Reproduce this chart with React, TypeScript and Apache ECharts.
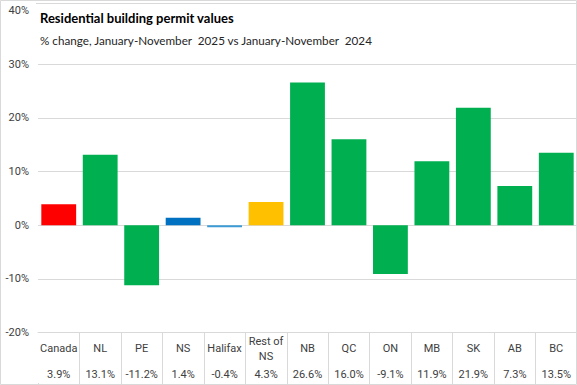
import React, { useEffect, useRef } from "react";
import * as echarts from "echarts";

const categories = ["Canada", "NL", "PE", "NS", "Halifax", "Rest of\nNS", "NB", "QC", "ON", "MB", "SK", "AB", "BC"];
const values = [3.9, 13.1, -11.2, 1.4, -0.4, 4.3, 26.6, 16.0, -9.1, 11.9, 21.9, 7.3, 13.5];
const barColors = ["#FF0000", "#00B050", "#00B050", "#0070C0", "#3C9BD4", "#FFC000", "#00B050", "#00B050", "#00B050", "#00B050", "#00B050", "#00B050", "#00B050"];
const titleText = "Residential building permit values";
const subtitleText = "% change, January-November  2025 vs January-November  2024";

export default function App() {
  const ref = useRef<HTMLDivElement>(null);
  useEffect(() => {
    if (!ref.current) return;
    const chart = echarts.init(ref.current, null, { renderer: "svg" });
    const labelFont = "Roboto";
    chart.setOption({
      animation: false,
      backgroundColor: "#ffffff",
      grid: { left: 38, right: 0, top: 10.5, bottom: 52.5, containLabel: false },
      xAxis: [
        {
          type: "category",
          data: categories,
          position: "bottom",
          axisLine: { onZero: false, lineStyle: { color: "#d9d9d9" } },
          axisTick: {
            show: true,
            length: 53,
            lineStyle: { color: "#d9d9d9" },
            interval: 0,
          },
          axisLabel: {
            interval: 0,
            color: "#404040",
            fontFamily: labelFont,
            fontSize: 11,
            lineHeight: 15,
            margin: 16,
            verticalAlign: "middle",
          },
        },
        {
          type: "category",
          data: values.map((v) => v.toFixed(1) + "%"),
          position: "bottom",
          offset: 26,
          axisLine: { show: false },
          axisTick: { show: false },
          axisLabel: {
            interval: 0,
            color: "#404040",
            fontFamily: labelFont,
            fontSize: 11,
            margin: 16,
            verticalAlign: "middle",
          },
        },
      ],
      yAxis: {
        type: "value",
        min: -20,
        max: 40,
        interval: 10,
        axisLine: { show: false },
        axisTick: { show: false },
        splitLine: { lineStyle: { color: "#d9d9d9" } },
        axisLabel: {
          formatter: "{value}%",
          color: "#404040",
          fontFamily: labelFont,
          fontSize: 11,
          margin: 9,
        },
      },
      series: [
        {
          type: "bar",
          xAxisIndex: 0,
          data: values.map((v, i) => ({ value: v, itemStyle: { color: barColors[i] } })),
          barCategoryGap: "16%",
        },
      ],
      graphic: [
        {
          type: "rect",
          z: 100,
          shape: { x: 36, y: 4, width: 540, height: 48 },
          style: { fill: "#ffffff" },
        },
        {
          type: "rect",
          z: 100,
          shape: { x: 36, y: 333, width: 4, height: 50 },
          style: { fill: "#ffffff" },
        },
        {
          type: "line",
          z: 101,
          shape: { x1: 36, y1: 3.5, x2: 577, y2: 3.5 },
          style: { stroke: "#d9d9d9", lineWidth: 1 },
        },
        {
          type: "text",
          z: 101,
          x: 40,
          y: 18,
          style: {
            text: titleText,
            fill: "#000000",
            font: "bold 13px Lato",
            textVerticalAlign: "middle",
          },
        },
        {
          type: "text",
          z: 101,
          x: 40,
          y: 40,
          style: {
            text: subtitleText,
            fill: "#262626",
            font: "11.7px Lato",
            textVerticalAlign: "middle",
          },
        },
        {
          type: "rect",
          z: 102,
          shape: { x: 0.5, y: 0.5, width: 576, height: 384 },
          style: { fill: "none", stroke: "#d9d9d9", lineWidth: 1 },
        },
      ],
    });
    return () => chart.dispose();
  }, []);
  return <div ref={ref} style={{ width: 577, height: 385, position: "absolute", left: 0, top: 0 }} />;
}
